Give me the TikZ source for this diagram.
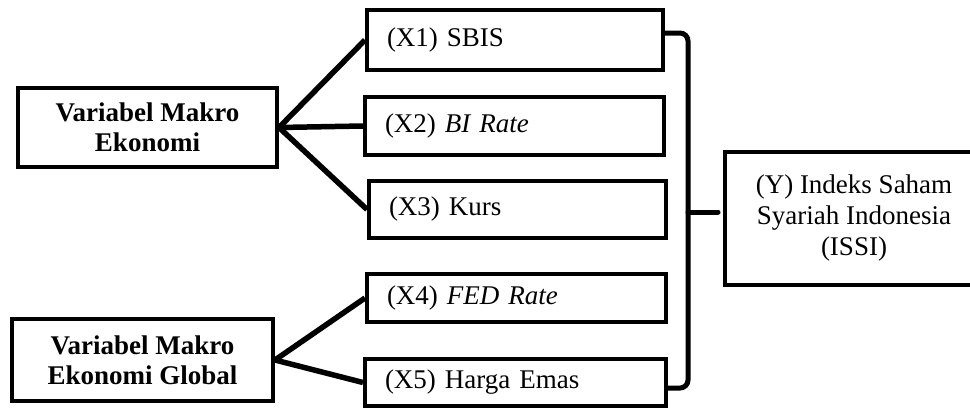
\documentclass[tikz,border=0pt]{standalone}
\usepackage{fontspec}
\setmainfont{Liberation Serif}
\usetikzlibrary{calc}
\begin{document}
\begin{tikzpicture}[x=1pt,y=-1pt,
  txt/.style={font=\fontsize{27}{31}\selectfont},
  lbox/.style={draw, line width=4pt, txt, align=center, inner sep=0pt, font=\fontsize{27}{30}\selectfont\bfseries},
  xbox/.style={draw, line width=4pt, txt, align=left, inner xsep=20pt, inner ysep=0pt, text width=#1},
  ybox/.style={draw, line width=4pt, txt, align=center, inner sep=0pt},
  conn/.style={line width=5.5pt},
  bracel/.style={line width=5pt, rounded corners=8pt}
]
\clip (0,0) rectangle (970,410);
\fill[white] (0,0) rectangle (970,410);
% left boxes
\node[lbox, minimum width=259pt, minimum height=79pt] (m1) at (147.5,127.5) {Variabel Makro\\Ekonomi};
\node[lbox, minimum width=261pt, minimum height=82pt] (m2) at (142.5,360) {Variabel Makro\\Ekonomi Global};
% X boxes
\node[xbox=256pt, minimum height=60pt] (x1) at (515,40) {(X1) SBIS};
\node[xbox=259pt, minimum height=58pt] (x2) at (514.5,126) {(X2) \textit{BI Rate}};
\node[xbox=257pt, minimum height=57pt] (x3) at (517.5,209.5) {(X3) Kurs};
\node[xbox=259pt, minimum height=48pt] (x4) at (516.5,298) {(X4) \textit{FED Rate}};
\node[xbox=261pt, minimum height=47pt] (x5) at (515.5,382.5) {(X5) Harga Emas};
% Y box
\node[ybox, minimum width=258pt, minimum height=133pt] (y) at (854,218.5) {(Y) Indeks Saham\\Syariah Indonesia\\(ISSI)};
% connectors
\draw[conn] (m1.east) -- (x1.west);
\draw[conn] (m1.east) -- (x2.west);
\draw[conn] (m1.east) -- (x3.west);
\draw[conn] (m2.east) -- (x4.west);
\draw[conn] (m2.east) -- (x5.west);
% brace
\coordinate (bm) at (688,212);
\coordinate (tick) at (718,212);
\draw[bracel] ([yshift=7pt]x1.east) -| (bm) |- ([yshift=-5.5pt]x5.east);
\draw[line width=5pt, line cap=round] (bm) -- (tick);
\end{tikzpicture}
\end{document}
